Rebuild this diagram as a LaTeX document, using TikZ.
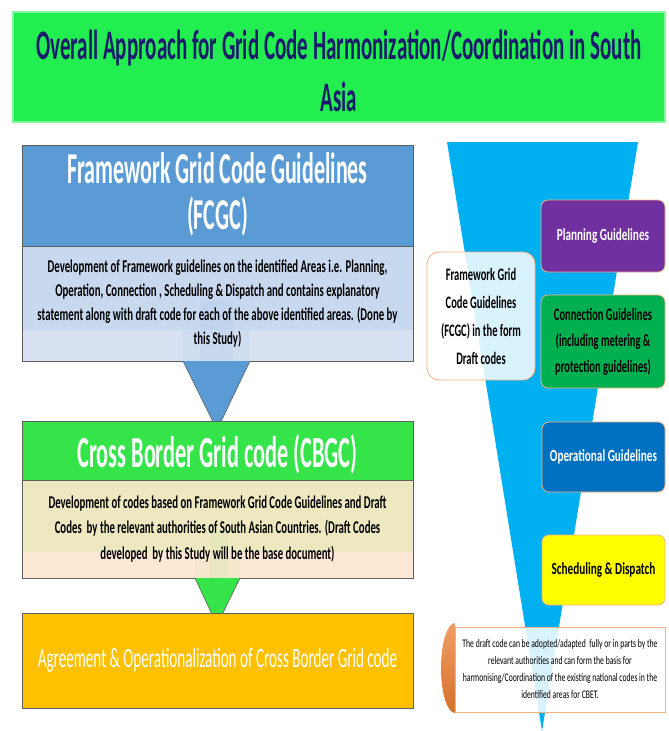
\documentclass[tikz,border=0pt]{standalone}
\usepackage{fontspec}
\setmainfont{Carlito}
\newfontfamily\fA[FakeStretch=0.50]{Carlito}
\newfontfamily\fB[FakeStretch=0.54]{Carlito}
\newfontfamily\fC[FakeStretch=0.60]{Carlito}
\newfontfamily\fD[FakeStretch=0.66]{Carlito}
\definecolor{titlegreen}{RGB}{34,238,80}
\definecolor{titleblue}{RGB}{27,27,110}
\definecolor{hdrblue}{RGB}{91,155,213}
\definecolor{bodyblue}{RGB}{200,216,239}
\definecolor{bodyblue2}{RGB}{215,225,242}
\definecolor{cbgreen}{RGB}{52,228,72}
\definecolor{beige}{RGB}{237,232,192}
\definecolor{peach}{RGB}{252,232,212}
\definecolor{gold}{RGB}{255,192,0}
\definecolor{funnel}{RGB}{0,176,240}
\definecolor{purp}{RGB}{112,48,160}
\definecolor{grn}{RGB}{0,176,80}
\definecolor{opblue}{RGB}{0,112,192}
\definecolor{yel}{RGB}{255,255,0}
\definecolor{salmon}{RGB}{244,177,131}
\definecolor{orng}{RGB}{237,125,49}
\definecolor{edge}{RGB}{95,95,95}
\tikzset{
  lbox/.style={draw=edge, line width=0.8pt, minimum width=391pt, inner sep=0pt, align=center},
  rbox/.style={draw=salmon, line width=0.8pt, rounded corners=7pt, inner sep=0pt, align=center, minimum width=124pt},
  arrowtri/.style={draw=edge, line width=0.6pt, line join=round},
}
\begin{document}
\begin{tikzpicture}[x=1pt,y=-1pt]
\useasboundingbox (0,0) rectangle (669,731);
% title
\node[fill=titlegreen, draw=titlegreen!55!white, line width=1.2pt, minimum width=652pt, minimum height=110pt, inner sep=0pt] (titlebox) at (339,67) {};
\node[text=titleblue, align=center, font=\fA\bfseries\fontsize{42}{52}\selectfont] (title) at (339,71)
  {Overall Approach for Grid Code Harmonization/Coordination in South\\Asia};

% funnel
\fill[funnel] (447,142) -- (638,142) -- (542,731) -- cycle;

% FCGC
\node[lbox, fill=hdrblue, minimum height=101pt] (fhdr) at (217.5,195.5) {};
\node[text=white, align=center, font=\fA\bfseries\fontsize{44}{46}\selectfont] (fhdrtext) at (217.5,194)
  {Framework Grid Code Guidelines\\(FCGC)};
\fill[bodyblue] (22,246) rectangle (413,330);
\fill[bodyblue2] (22,330) rectangle (413,361);
\fill[hdrblue, opacity=0.06] (200,300) rectangle (233,361);
\fill[hdrblue, opacity=0.05] (183,330) rectangle (250,361);
\node[lbox, minimum height=115pt, font=\fC\bfseries\fontsize{18}{24}\selectfont] (fbody) at (217.5,303.5)
  {Development of Framework guidelines on the identified Areas i.e. Planning,\\
   Operation, Connection , Scheduling \& Dispatch and contains explanatory\\
   statement along with draft code for each of the above identified areas. (Done by\\
   this Study)};
\filldraw[arrowtri, fill=hdrblue] (183,361) -- (217,430) -- (250,361);

% CBGC
\node[lbox, fill=cbgreen, minimum height=59pt] (chdr) at (217.5,450.5) {};
\node[text=white, font=\fA\bfseries\fontsize{44.5}{46}\selectfont] (chdrtext) at (217.5,454)
  {Cross Border Grid code (CBGC)};
\fill[beige] (22,480) rectangle (413,552);
\fill[peach] (22,552) rectangle (413,578);
\fill[cbgreen, opacity=0.05] (210,530) rectangle (228,578);
\fill[cbgreen, opacity=0.04] (195,552) rectangle (240,578);
\node[lbox, minimum height=98pt, font=\fC\bfseries\fontsize{18}{25.5}\selectfont] (cbody) at (217.5,529)
  {Development of codes based on Framework Grid Code Guidelines and Draft\\
   Codes~ by the relevant authorities of South Asian Countries. (Draft Codes\\
   developed~ by this Study will be the base document)};
\filldraw[arrowtri, fill=cbgreen] (195,578) -- (217,625) -- (240,578);

% Agreement
\node[lbox, fill=gold, minimum height=95pt, text=white, font=\fB\fontsize{28}{32}\selectfont] (agree) at (217.5,660.5)
  {Agreement \& Operationalization of Cross Border Grid code};

% right side
\node[rbox, fill=purp, minimum height=72pt, text=white, font=\fD\bfseries\fontsize{17}{22}\selectfont] (plan) at (603,236)
  {Planning Guidelines};
\node[rbox, fill=white, fill opacity=0.85, text opacity=1, minimum width=108pt, minimum height=128pt, rounded corners=12pt, font=\fC\bfseries\fontsize{17.5}{28}\selectfont] (fcgcr) at (481,316)
  {Framework Grid\\Code Guidelines\\(FCGC) in the form\\Draft codes};
\node[rbox, fill=grn, minimum height=93pt, font=\fC\bfseries\fontsize{17.5}{26}\selectfont] (conn) at (603,341.5)
  {Connection Guidelines\\(including metering \&\\protection guidelines)};
\node[rbox, fill=opblue, minimum width=123pt, minimum height=70pt, text=white, font=\fD\bfseries\fontsize{17}{22}\selectfont] (oper) at (603.5,457)
  {Operational Guidelines};
\node[rbox, fill=yel, minimum width=123pt, minimum height=70pt, font=\fD\bfseries\fontsize{17}{22}\selectfont] (sched) at (603.5,570)
  {Scheduling \& Dispatch};
\shade[top color=orng!75!white, bottom color=orng!90!black] (455,623) arc[start angle=270, end angle=90, x radius=14, y radius=45] -- cycle;
\node[draw=salmon, line width=0.8pt, fill=white, fill opacity=0.85, text opacity=1, minimum width=210pt, minimum height=85pt, inner sep=0pt, align=center, font=\fD\fontsize{11.6}{17}\selectfont] (note) at (560,669.5)
  {The draft code can be adopted/adapted~ fully or in parts by the\\
   relevant authorities and can form the basis for\\
   harmonising/Coordination of the existing national codes in the\\
   identified areas for CBET.};
\end{tikzpicture}
\end{document}
